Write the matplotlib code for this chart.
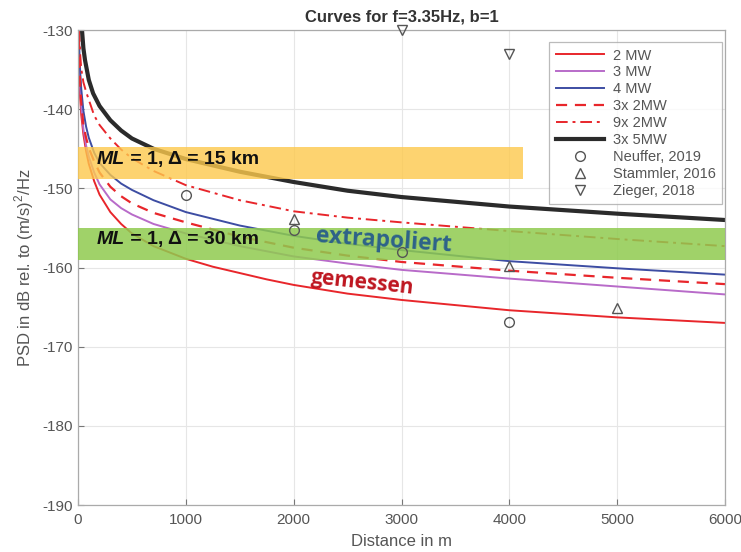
import matplotlib
matplotlib.use("Agg")
import matplotlib.pyplot as plt
import numpy as np

plt.rcParams['font.family'] = ['Liberation Sans', 'DejaVu Sans']
plt.rcParams['axes.unicode_minus'] = False
plt.rcParams['mathtext.fontset'] = 'custom'
plt.rcParams['mathtext.rm'] = 'Liberation Sans'

# ---- data ----
d_2mw = [5, 10, 15, 20, 30, 50, 75, 100, 150, 200, 300, 400, 500, 700, 1000, 1250, 1500, 1750, 2000, 2500, 3000, 4000, 5000, 6000]
psd_2mw = [-130.5, -134.5, -136.6, -138.5, -140.7, -143.2, -145.3, -146.9, -149.1, -150.8, -153.0, -154.5, -155.7, -157.3, -158.9, -159.9, -160.7, -161.5, -162.2, -163.3, -164.1, -165.4, -166.3, -167.0]

d_3mw = [7, 10, 15, 20, 30, 50, 75, 100, 150, 200, 300, 400, 500, 700, 1000, 1500, 2000, 2500, 3000, 4000, 5000, 6000]
psd_3mw = [-130.5, -133.0, -135.3, -137.0, -139.5, -142.5, -144.6, -146.0, -148.0, -149.5, -151.4, -152.5, -153.3, -154.5, -155.7, -157.3, -158.6, -159.5, -160.3, -161.4, -162.4, -163.4]

d_4mw = [8, 10, 15, 20, 30, 50, 75, 100, 150, 200, 300, 400, 500, 700, 1000, 1500, 2000, 2500, 3000, 4000, 5000, 6000]
psd_4mw = [-130.3, -131.5, -133.6, -135.2, -137.4, -140.2, -142.2, -143.6, -145.5, -146.8, -148.3, -149.4, -150.2, -151.5, -153.0, -154.7, -156.0, -157.0, -157.8, -159.2, -160.1, -160.9]

d_3x2mw = [8, 10, 15, 20, 30, 50, 75, 100, 150, 200, 300, 400, 500, 700, 1000, 1500, 2000, 2500, 3000, 4000, 5000, 6000]
psd_3x2mw = [-131.0, -132.5, -135.0, -136.8, -139.2, -142.0, -143.6, -144.9, -146.6, -148.0, -149.8, -151.0, -151.9, -153.1, -154.3, -156.1, -157.5, -158.5, -159.3, -160.4, -161.3, -162.1]

d_9x2mw = [12, 15, 20, 30, 50, 75, 100, 150, 200, 300, 400, 500, 700, 1000, 1500, 2000, 2500, 3000, 4000, 5000, 6000]
psd_9x2mw = [-130.0, -131.3, -133.0, -134.9, -136.6, -137.8, -138.8, -140.8, -142.0, -143.7, -145.1, -146.2, -147.8, -149.6, -151.5, -152.9, -153.7, -154.3, -155.4, -156.4, -157.3]

d_3x5mw = [37, 50, 65, 100, 140, 200, 300, 400, 500, 700, 1000, 1500, 2000, 2500, 3000, 4000, 5000, 6000]
psd_3x5mw = [-130.0, -132.3, -133.8, -136.3, -138.0, -139.6, -141.4, -142.7, -143.7, -145.0, -146.3, -147.9, -149.2, -150.3, -151.1, -152.3, -153.2, -154.0]

neuffer_d = [1000, 2000, 3000, 4000]
neuffer_psd = [-150.8, -155.2, -158.1, -166.9]
stammler_d = [2000, 4000, 5000]
stammler_psd = [-153.9, -159.8, -165.1]
zieger_d = [3000, 4000]
zieger_psd = [-130.0, -133.0]

band15 = (-148.8, -144.8)   # ML = 1, Delta = 15 km
band15_x = (0, 4130)
band30 = (-159.0, -155.0)   # ML = 1, Delta = 30 km
band30_x = (0, 6000)

# ---- figure ----
fig = plt.figure(figsize=(7.41, 5.52), dpi=100)
ax = fig.add_axes([78/741, 1-505/552, (725-78)/741, (505-30)/552])

red = '#E8262B'
purple = '#B86BC9'
blue = '#3D4DA3'
black = '#2B2B2B'

ax.plot(d_2mw, psd_2mw, color=red, lw=1.4, label='2 MW')
ax.plot(d_3mw, psd_3mw, color=purple, lw=1.4, label='3 MW')
ax.plot(d_4mw, psd_4mw, color=blue, lw=1.4, label='4 MW')
ax.plot(d_3x2mw, psd_3x2mw, color=red, lw=1.6, ls=(0, (5, 3.5)), label='3x 2MW')
ax.plot(d_9x2mw, psd_9x2mw, color=red, lw=1.4, ls=(0, (6, 2.5, 1.5, 2.5)), label='9x 2MW')
ax.plot(d_3x5mw, psd_3x5mw, color=black, lw=3.0, label='3x 5MW')

mk = dict(ls='none', mfc='none', mec='#555555', mew=1.0, ms=7, clip_on=False, zorder=5)
ax.plot(neuffer_d, neuffer_psd, marker='o', label='Neuffer, 2019', **mk)
ax.plot(stammler_d, stammler_psd, marker='^', label='Stammler, 2016', **mk)
ax.plot(zieger_d, zieger_psd, marker='v', label='Zieger, 2018', **mk)

# bands over the lines (semi transparent)
ax.fill_between(band15_x, band15[0], band15[1], color='#FDC94C', alpha=0.8, lw=0, zorder=3)
ax.fill_between(band30_x, band30[0], band30[1], color='#8FCB4F', alpha=0.85, lw=0, zorder=3)

for yv, km in [(-146.4, '15'), (-156.5, '30')]:
    t1 = ax.text(176, yv, 'ML', fontsize=14, fontweight='bold', fontstyle='italic',
                 va='center', ha='left', zorder=6, color='#111111')
    ax.annotate(' = 1, \u0394 = ' + km + ' km', xy=(1, 0), xycoords=t1, va='bottom', ha='left',
                fontsize=14, fontweight='bold', color='#111111', zorder=6)

ax.text(2200, -156.6, 'extrapoliert', fontsize=16.5, fontweight='bold', color='#2E6389',
        family=['Open Sans', 'DejaVu Sans'], rotation=-4, va='center', ha='left', zorder=6)
ax.text(2150, -162.0, 'gemessen', fontsize=15, fontweight='bold', color='#BE1620',
        family=['Open Sans', 'DejaVu Sans'], rotation=-6, va='center', ha='left', zorder=6)

ax.set_xlim(0, 6000)
ax.set_ylim(-190, -130)
ax.set_xticks(np.arange(0, 6001, 1000))
ax.set_yticks(np.arange(-190, -129, 10))
ax.grid(True, color='#E6E6E6', lw=0.8)
ax.set_axisbelow(True)
ax.tick_params(direction='in', colors='#777777', labelsize=11, length=4)
ax.tick_params(axis='y', pad=4)
ax.tick_params(axis='x', pad=6)
for lab in ax.get_xticklabels() + ax.get_yticklabels():
    lab.set_color('#555555')
for s in ax.spines.values():
    s.set_color('#AAAAAA')
    s.set_linewidth(0.9)

ax.set_xlabel('Distance in m', fontsize=12, color='#555555', labelpad=5)
ax.set_ylabel(r'PSD in dB rel. to (m/s)$^2$/Hz', fontsize=12, color='#555555', labelpad=4)
ax.set_title('Curves for f=3.35Hz, b=1', fontsize=12, fontweight='bold', color='#333333', pad=6)

leg = ax.legend(loc='upper right', bbox_to_anchor=(0.9954, 0.9747), borderaxespad=0,
                fontsize=10.5, frameon=True,
                fancybox=False, edgecolor='#AAAAAA', handlelength=3.3, handletextpad=0.6,
                labelspacing=0.2, borderpad=0.45, labelcolor='#555555')
leg.get_frame().set_linewidth(0.9)
leg.set_zorder(10)

fig.savefig('out.png', dpi=100)
